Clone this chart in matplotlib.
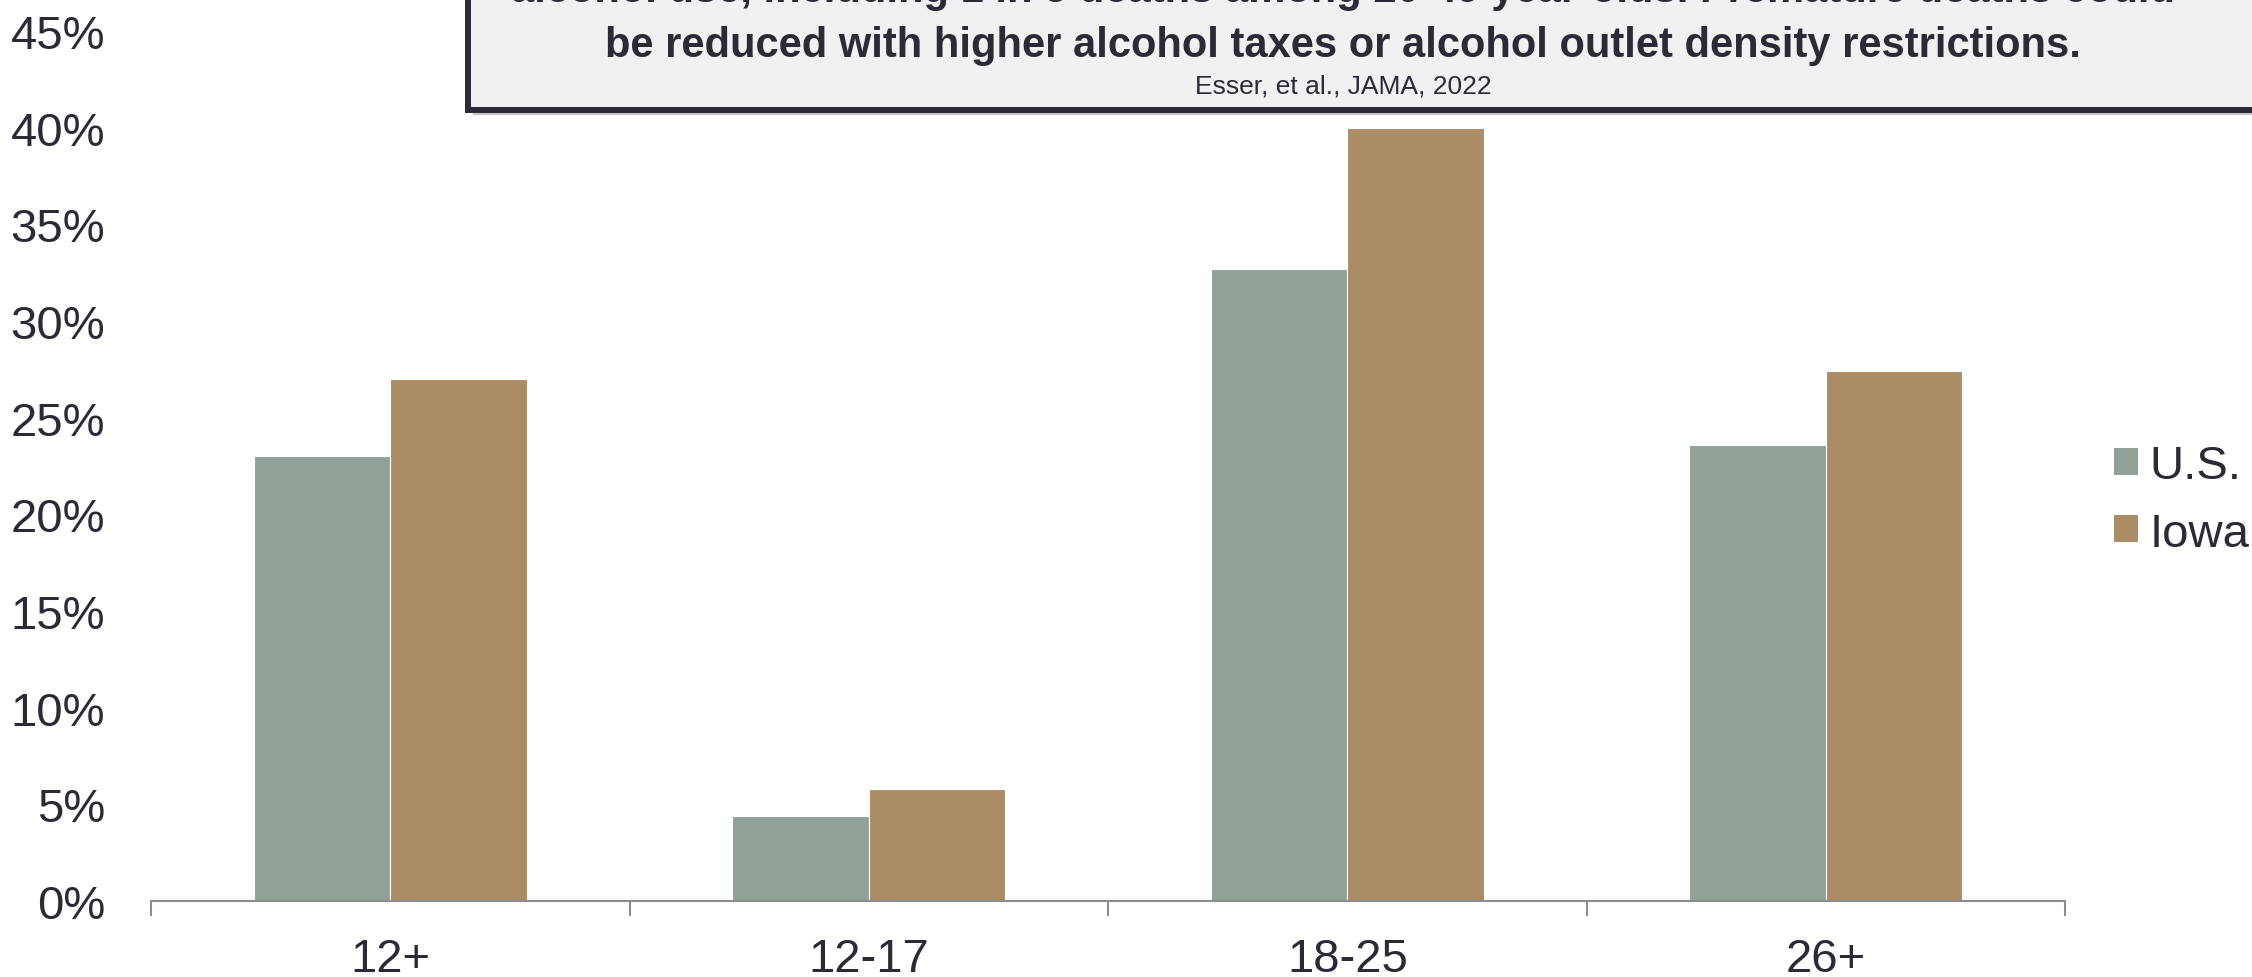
import matplotlib
matplotlib.use("Agg")
import matplotlib.pyplot as plt
from matplotlib.patches import Rectangle, Patch
import numpy as np

plt.rcParams["font.family"] = ["Liberation Sans", "DejaVu Sans"]

# data
age_groups = ["12+", "12-17", "18-25", "26+"]
us_pct = [23.0, 4.4, 32.7, 23.6]
iowa_pct = [27.0, 5.8, 40.0, 27.4]
series_names = ["U.S.", "Iowa"]

headline = [
    "alcohol use, including 1 in 5 deaths among 20-49 year-olds. Premature deaths could",
    "be reduced with higher alcohol taxes or alcohol outlet density restrictions.",
]
source = "Esser, et al., JAMA, 2022"

US_COLOR = "#91a197"
IA_COLOR = "#ab8d65"
TEXT = "#2b2b38"
AXIS = "#8c8c8c"

fig = plt.figure(figsize=(22.52, 9.78), dpi=100)
ax = fig.add_axes([0.0671, 0.0777, 0.8499, 0.8896])

x = np.arange(len(age_groups))
w = 0.285
ax.bar(x - w / 2, us_pct, width=w, color=US_COLOR, edgecolor="white", linewidth=0.8)
ax.bar(x + w / 2, iowa_pct, width=w, color=IA_COLOR, edgecolor="white", linewidth=0.8)

ax.set_xlim(-0.5, len(age_groups) - 0.5)
ax.set_ylim(0, 45)
ax.set_yticks(np.arange(0, 46, 5))
ax.set_yticklabels([f"{v}%" for v in range(0, 46, 5)], fontsize=34, color=TEXT)
ax.tick_params(axis="y", length=0, pad=33)

# category boundaries get the tick marks, labels sit at the centres
ax.set_xticks(np.arange(-0.5, len(age_groups), 1.0))
ax.set_xticklabels([])
ax.set_xticks(x, minor=True)
ax.set_xticklabels(age_groups, minor=True, fontsize=34, color=TEXT)
ax.tick_params(axis="x", which="major", length=11, width=1.5, color=AXIS, direction="out")
ax.tick_params(axis="x", which="minor", length=0, pad=26)

for s in ("top", "right", "left"):
    ax.spines[s].set_visible(False)
ax.spines["bottom"].set_color(AXIS)
ax.spines["bottom"].set_linewidth(1.5)

handles = [Patch(facecolor=US_COLOR), Patch(facecolor=IA_COLOR)]
fig.legend(handles, series_names, loc="center left",
           bbox_to_anchor=(0.9305, 0.488), frameon=False, fontsize=34,
           handlelength=0.5, handleheight=0.5, handletextpad=0.25,
           labelspacing=0.5, labelcolor=TEXT, borderaxespad=0)

# callout box running off the top of the figure
fig.patches.append(Rectangle((0.2110, 0.8835), 0.80, 0.3, transform=fig.transFigure,
                             facecolor="#d8d8d8", edgecolor="#c4c4c4", lw=3,
                             zorder=4))
fig.patches.append(Rectangle((0.2078, 0.8865), 0.80, 0.3, transform=fig.transFigure,
                             facecolor="#f1f1f1", edgecolor=TEXT, lw=4.3, zorder=5))
fig.text(0.5965, 0.9975, headline[0], ha="center", va="baseline", fontsize=30,
         fontweight="bold", color=TEXT, zorder=6)
fig.text(0.5965, 0.9417, headline[1], ha="center", va="baseline", fontsize=30,
         fontweight="bold", color=TEXT, zorder=6)
fig.text(0.5965, 0.912, source, ha="center", va="center", fontsize=19,
         color=TEXT, zorder=6)

fig.savefig("out.png", dpi=100)
